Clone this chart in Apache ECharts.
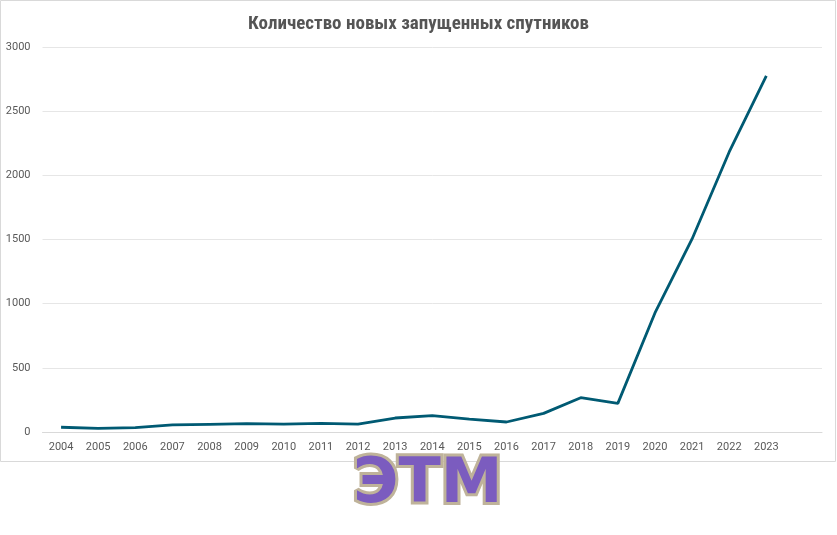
<!DOCTYPE html><html><head><meta charset="utf-8"><script src="https://cdn.jsdelivr.net/npm/echarts@6/dist/echarts.min.js"></script></head><body style="margin:0;background:#fff"><div id="c" style="width:837px;height:535px"></div><script>
const years=['2004','2005','2006','2007','2008','2009','2010','2011','2012','2013','2014','2015','2016','2017','2018','2019','2020','2021','2022','2023',''];
const launches=[37,29,34,55,60,65,62,67,62,109,127,101,78,145,267,223,928,1504,2182,2775];
const c=echarts.init(document.getElementById('c'));
c.setOption({
title:{text:'Количество новых запущенных спутников',left:'center',top:10,textStyle:{fontFamily:'Roboto Condensed, Roboto, sans-serif',fontSize:19,fontWeight:'bold',color:'#555'}},
grid:{left:42.5,right:15,top:47,bottom:103},
xAxis:{type:'category',data:years,boundaryGap:true,axisTick:{show:false},axisLine:{lineStyle:{color:'#d9d9d9'}},axisLabel:{color:'#595959',fontSize:11,margin:10,fontFamily:'Roboto'}},
yAxis:{type:'value',min:0,max:3000,interval:500,axisLabel:{color:'#595959',fontSize:11,fontFamily:'Roboto',margin:12,formatter:v=>String(v)},splitLine:{lineStyle:{color:'#e6e6e6'}}},
series:[{type:'line',data:launches,symbol:'none',lineStyle:{color:'#005a73',width:2.8},animation:false}],
graphic:[
{type:'rect',shape:{x:0.5,y:0.5,width:835,height:461},style:{fill:'none',stroke:'#d9d9d9'}},
{type:'text',left:350,top:452,style:{text:'ЭТМ',font:'bold 62px "DejaVu Sans"',fill:'#7b5cbf',stroke:'#bfb39a',lineWidth:6}}
]});
</script></body></html>
